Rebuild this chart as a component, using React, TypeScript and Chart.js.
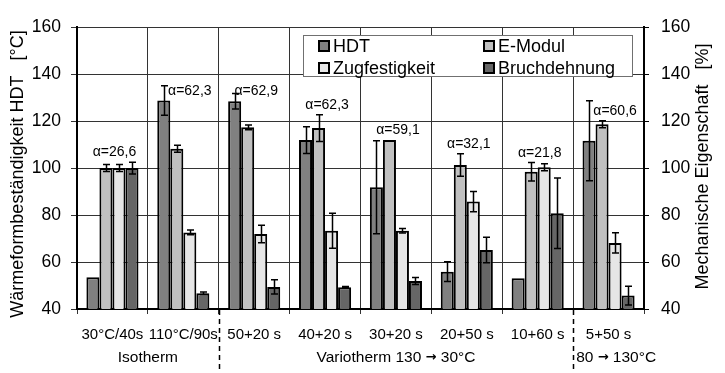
import React, { useEffect, useRef } from 'react';
import { Chart, registerables } from 'chart.js';

Chart.register(...registerables);

const categories = ['30°C/40s', '110°C/90s', '50+20 s', '40+20 s', '30+20 s', '20+50 s', '10+60 s', '5+50 s'];
const seriesNames = ['HDT', 'E-Modul', 'Zugfestigkeit', 'Bruchdehnung'];
const hdt = [53.5, 128.7, 128.4, 111.9, 91.8, 55.9, 53.1, 111.6];
const hdtErr = [0, 6.3, 3.3, 5.7, 19.8, 4.2, 0, 17];
const eModul = [100, 108.2, 117.3, 117.0, 111.9, 101.3, 98.4, 118.6];
const eModulErr = [1.5, 1.5, 1, 5.7, 0, 4.8, 3.9, 1.5];
const zug = [100, 72.6, 71.9, 73.3, 73.3, 85.7, 100.3, 68.1];
const zugErr = [1.5, 1, 3.7, 7.4, 1, 4.3, 1.5, 4.3];
const bruch = [100, 46.7, 49.4, 49.3, 51.9, 65.1, 80.7, 45.7];
const bruchErr = [2.5, 0.5, 3, 0.3, 1.5, 5.4, 15, 4];
const alphaLabels = ['α=26,6', 'α=62,3', 'α=62,9', 'α=62,3', 'α=59,1', 'α=32,1', 'α=21,8', 'α=60,6'];
const groupLabels = ['Isotherm', 'Variotherm 130 → 30°C', '80 → 130°C'];
const groupFrom = [0, 2, 7];
const groupTo = [1, 6, 7];
const yTicksMin = 40;
const yTicksMax = 160;
const yTickStep = 20;
const leftTitle = 'Wärmeformbeständigkeit HDT   [°C]';
const rightTitle = 'Mechanische Eigenschaft   [%]';

const FONT = "'Liberation Sans', Arial, sans-serif";
const ARROW_FONT = "bold 13px 'DejaVu Sans', sans-serif";
const COLORS = ['#808080', '#c0c0c0', '#e6e6e6', '#666666'];

function drawWithArrow(ctx: CanvasRenderingContext2D, text: string, x: number, y: number, baseFont: string) {
  const parts = text.split('→');
  let cx = x;
  parts.forEach((p, i) => {
    ctx.font = baseFont;
    ctx.fillText(p, cx, y);
    cx += ctx.measureText(p).width;
    if (i < parts.length - 1) {
      ctx.font = ARROW_FONT;
      ctx.fillText('→', cx, y);
      cx += ctx.measureText('→').width;
    }
  });
}

function measureWithArrow(ctx: CanvasRenderingContext2D, text: string, baseFont: string) {
  const parts = text.split('→');
  let w = 0;
  parts.forEach((p, i) => {
    ctx.font = baseFont;
    w += ctx.measureText(p).width;
    if (i < parts.length - 1) {
      ctx.font = ARROW_FONT;
      w += ctx.measureText('→').width;
    }
  });
  return w;
}

export default function App() {
  const ref = useRef<HTMLCanvasElement>(null);

  useEffect(() => {
    const canvas = ref.current;
    if (!canvas) return;
    const values = [hdt, eModul, zug, bruch];
    const errs = [hdtErr, eModulErr, zugErr, bruchErr];

    const plugin = {
      id: 'customDecor',
      afterDatasetsDraw(chart: any) {
        const ctx = chart.ctx;
        const ys = chart.scales.y;
        // error bars
        ctx.save();
        ctx.strokeStyle = '#000';
        ctx.lineWidth = 1.5;
        for (let d = 0; d < values.length; d++) {
          const meta = chart.getDatasetMeta(d);
          meta.data.forEach((el: any, i: number) => {
            const e = errs[d][i];
            if (!e) return;
            const v = values[d][i];
            const yHi = ys.getPixelForValue(v + e);
            const yLo = ys.getPixelForValue(Math.max(v - e, yTicksMin));
            const x = Math.round(el.x) + 0.5;
            ctx.beginPath();
            ctx.moveTo(x, yHi);
            ctx.lineTo(x, yLo);
            ctx.moveTo(x - 3.5, yHi);
            ctx.lineTo(x + 3.5, yHi);
            ctx.moveTo(x - 3.5, yLo);
            ctx.lineTo(x + 3.5, yLo);
            ctx.stroke();
          });
        }
        ctx.restore();

        // alpha labels
        ctx.save();
        ctx.font = `14px ${FONT}`;
        ctx.fillStyle = '#000';
        ctx.textAlign = 'center';
        ctx.textBaseline = 'alphabetic';
        const metas = values.map((_, d) => chart.getDatasetMeta(d));
        categories.forEach((_, i) => {
          let top = hdt[i];
          for (let d = 1; d < values.length; d++) top = Math.max(top, values[d][i] + errs[d][i]);
          const yText = ys.getPixelForValue(top) - 6;
          const hdtTopPx = ys.getPixelForValue(hdt[i] + hdtErr[i]);
          let x;
          if (hdtTopPx < yText - 2) {
            const a = metas[1].data[i];
            const b = metas[3].data[i];
            x = (a.x - a.width / 2 + b.x + b.width / 2) / 2;
          } else {
            x = chart.scales.x.getPixelForValue(i) + 2;
          }
          ctx.fillText(alphaLabels[i], x, yText);
        });
        ctx.restore();
      },
      afterDraw(chart: any) {
        const ctx = chart.ctx;
        const ca = chart.chartArea;
        const xs = chart.scales.x;

        // legend
        ctx.save();
        const lx = ca.left + 226;
        const ly = ca.top + 8;
        const lw = 329;
        const lh = 41;
        ctx.fillStyle = '#fff';
        ctx.fillRect(lx, ly, lw, lh);
        ctx.strokeStyle = '#707070';
        ctx.lineWidth = 1;
        ctx.strokeRect(lx + 0.5, ly + 0.5, lw, lh);
        ctx.font = `18px ${FONT}`;
        ctx.textAlign = 'left';
        ctx.textBaseline = 'middle';
        seriesNames.forEach((name, k) => {
          const col = k % 2;
          const row = Math.floor(k / 2);
          const bx = lx + (col === 0 ? 16 : 181);
          const by = ly + 11 + row * 22;
          ctx.fillStyle = COLORS[k];
          ctx.fillRect(bx, by - 5, 10, 10);
          ctx.strokeStyle = '#000';
          ctx.lineWidth = 2;
          ctx.strokeRect(bx, by - 5, 10, 10);
          ctx.fillStyle = '#000';
          ctx.fillText(name, bx + 14, by + 1);
        });
        ctx.restore();

        // axis titles
        ctx.save();
        ctx.font = `18px ${FONT}`;
        ctx.fillStyle = '#000';
        ctx.textAlign = 'center';
        ctx.textBaseline = 'middle';
        const midY = (ca.top + ca.bottom) / 2;
        ctx.translate(18, midY + 6);
        ctx.rotate(-Math.PI / 2);
        ctx.fillText(leftTitle, 0, 0);
        ctx.restore();
        ctx.save();
        ctx.font = `18px ${FONT}`;
        ctx.fillStyle = '#000';
        ctx.textAlign = 'center';
        ctx.textBaseline = 'middle';
        ctx.translate(ca.right + 59, midY - 1.5);
        ctx.rotate(-Math.PI / 2);
        ctx.fillText(rightTitle, 0, 0);
        ctx.restore();

        // group labels and dashed separators
        ctx.save();
        const gFont = `15.5px ${FONT}`;
        ctx.fillStyle = '#000';
        ctx.textBaseline = 'middle';
        ctx.textAlign = 'left';
        const half = (xs.getPixelForValue(1) - xs.getPixelForValue(0)) / 2;
        const gy = ca.bottom + 49;
        groupLabels.forEach((lab, g) => {
          const left = xs.getPixelForValue(groupFrom[g]) - half;
          const right = xs.getPixelForValue(groupTo[g]) + half;
          const w = measureWithArrow(ctx, lab, gFont);
          let x = (left + right) / 2 - w / 2;
          if (g > 0 && x < left + 3) x = left + 3;
          drawWithArrow(ctx, lab, x, gy, gFont);
        });
        ctx.strokeStyle = '#000';
        ctx.lineWidth = 1.5;
        ctx.setLineDash([5, 4]);
        for (let g = 1; g < groupFrom.length; g++) {
          const x = Math.round(xs.getPixelForValue(groupFrom[g]) - half) + 0.5;
          ctx.beginPath();
          ctx.moveTo(x, ca.bottom + 1);
          ctx.lineTo(x, ca.bottom + 60);
          ctx.stroke();
        }
        ctx.restore();
      },
    };

    const chart = new Chart(canvas, {
      type: 'bar',
      data: {
        labels: categories,
        datasets: values.map((vals, d) => ({
          label: seriesNames[d],
          data: vals,
          backgroundColor: COLORS[d],
          borderColor: '#000',
          borderWidth: 2,
          borderSkipped: false,
          yAxisID: 'y',
          barPercentage: 1,
          categoryPercentage: 0.735,
        })),
      },
      options: {
        animation: false,
        responsive: true,
        maintainAspectRatio: false,
        layout: { padding: { top: 27, left: 0, right: 0, bottom: 0 } },
        plugins: {
          legend: { display: false },
          tooltip: { enabled: false },
        },
        scales: {
          x: {
            grid: { offset: true, color: '#333', lineWidth: 1, tickLength: 5, drawOnChartArea: true },
            border: { color: '#000', width: 2 },
            ticks: {
              font: { size: 15, family: FONT },
              color: '#000',
              padding: 12,
              maxRotation: 0,
              autoSkip: false,
            },
            afterFit: (s: any) => {
              s.height = 64;
            },
          },
          y: {
            position: 'left',
            min: yTicksMin,
            max: yTicksMax,
            ticks: { stepSize: yTickStep, font: { size: 17.5, family: FONT }, color: '#000', padding: 10 },
            grid: { color: '#333', lineWidth: 1, tickLength: 6 },
            border: { color: '#000', width: 2 },
            afterFit: (s: any) => {
              s.width = 77;
            },
          },
          y1: {
            position: 'right',
            min: yTicksMin,
            max: yTicksMax,
            ticks: { stepSize: yTickStep, font: { size: 17.5, family: FONT }, color: '#000', padding: 12 },
            grid: { drawOnChartArea: false, color: '#000', tickLength: 5 },
            border: { color: '#000', width: 2 },
            afterFit: (s: any) => {
              s.width = 81;
            },
          },
        },
      },
      plugins: [plugin],
    });
    return () => chart.destroy();
  }, []);

  return (
    <div style={{ position: 'fixed', left: 0, top: 0, width: 725, height: 373, background: '#fff' }}>
      <canvas ref={ref} />
    </div>
  );
}
